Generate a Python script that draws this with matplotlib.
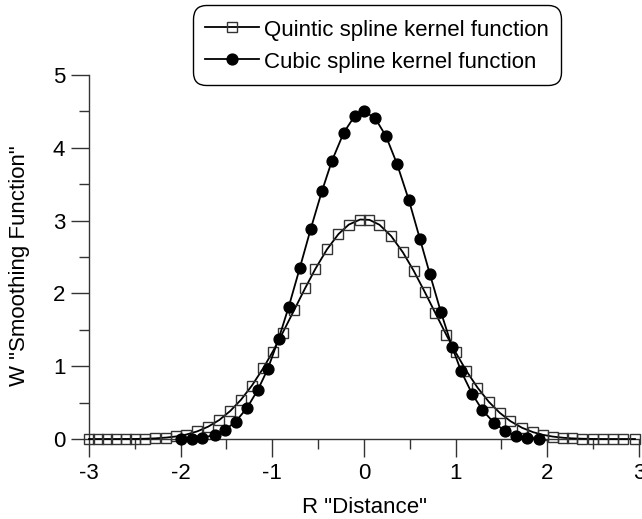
import matplotlib
matplotlib.use("Agg")
import matplotlib.pyplot as plt
from matplotlib.ticker import MultipleLocator

plt.rcParams['font.family'] = ['Liberation Sans', 'DejaVu Sans']
plt.rcParams['axes.unicode_minus'] = False

# Quintic spline kernel samples
quintic_x = [-3.00, -2.90, -2.80, -2.70, -2.60, -2.50, -2.39, -2.28, -2.155, -2.046,
             -1.937, -1.817, -1.701, -1.579, -1.459, -1.342, -1.222, -1.098, -0.995,
             -0.886, -0.760, -0.643, -0.530, -0.403, -0.279, -0.166, -0.042,
             0.060, 0.169, 0.297, 0.424, 0.541, 0.661, 0.778, 0.899, 1.000, 1.117,
             1.238, 1.361, 1.481, 1.598, 1.725, 1.845, 1.954, 2.057, 2.169, 2.271,
             2.380, 2.501, 2.610, 2.719, 2.828, 2.956]
quintic_w = [0.000, 0.000, 0.000, 0.000, 0.001, 0.001, 0.004, 0.009, 0.020, 0.036,
             0.062, 0.106, 0.169, 0.261, 0.385, 0.539, 0.735, 0.975, 1.201,
             1.461, 1.776, 2.069, 2.338, 2.606, 2.814, 2.945, 3.015,
             3.010, 2.943, 2.787, 2.565, 2.314, 2.025, 1.731, 1.429, 1.190, 0.936,
             0.707, 0.512, 0.360, 0.245, 0.154, 0.094, 0.057, 0.034, 0.018, 0.009,
             0.004, 0.001, 0.000, 0.000, 0.000, 0.000]

# Cubic spline kernel samples
cubic_x = [-2.00, -1.88, -1.77, -1.63, -1.52, -1.40, -1.28, -1.16, -1.05, -0.93,
           -0.82, -0.70, -0.58, -0.46, -0.35, -0.22, -0.10, 0.00, 0.12, 0.24,
           0.36, 0.49, 0.61, 0.72, 0.84, 0.96, 1.06, 1.18, 1.29, 1.42, 1.54,
           1.66, 1.78, 1.91]
cubic_w = [0.00, 0.00, 0.01, 0.06, 0.12, 0.24, 0.42, 0.67, 0.96, 1.38,
           1.82, 2.35, 2.89, 3.40, 3.82, 4.21, 4.44, 4.50, 4.41, 4.16,
           3.78, 3.28, 2.75, 2.26, 1.74, 1.27, 0.93, 0.62, 0.40, 0.22, 0.11,
           0.04, 0.01, 0.00]

x_ticks = [-3, -2, -1, 0, 1, 2, 3]
y_ticks = [0, 1, 2, 3, 4, 5]

FS = 16

fig = plt.figure(figsize=(6.42, 5.19), dpi=100)
ax = fig.add_axes([0.1386, 0.1541, 0.8567, 0.7014])

ax.plot(quintic_x, quintic_w, color='black', lw=1.3, marker='s', ms=7.2,
        mfc='none', mec='#333333', mew=1.0, clip_on=False,
        label='Quintic spline kernel function', zorder=3)
ax.plot(cubic_x, cubic_w, color='black', lw=1.3, marker='o', ms=7.8,
        mfc='black', mec='black', clip_on=False,
        label='Cubic spline kernel function', zorder=4)

ax.set_xlim(-3, 3)
ax.set_ylim(0, 5)
ax.set_xticks(x_ticks)
ax.set_yticks(y_ticks)
ax.xaxis.set_minor_locator(MultipleLocator(0.5))
ax.yaxis.set_minor_locator(MultipleLocator(0.5))

for side in ('top', 'right'):
    ax.spines[side].set_visible(False)
for side in ('left', 'bottom'):
    ax.spines[side].set_color('#333333')
    ax.spines[side].set_linewidth(1.0)

ax.tick_params(which='major', direction='out', length=13, width=1.0,
               color='#333333', labelsize=FS, pad=4)
ax.tick_params(which='minor', direction='out', length=7, width=1.0,
               color='#333333')

fig.text(0.567, 0.023, 'R "Distance"', ha='center', va='center', fontsize=FS)
fig.text(0.031, 0.489, 'W "Smoothing Function"', ha='center', va='center',
         rotation=90, fontsize=FS)

leg = fig.legend(loc='upper left', bbox_to_anchor=(0.3006, 0.990),
                 bbox_transform=fig.transFigure, borderaxespad=0,
                 fontsize=FS, handlelength=2.4, handleheight=1.1,
                 handletextpad=0.25, borderpad=0.55, labelspacing=0.42,
                 fancybox=True, framealpha=1, edgecolor='black')
leg.get_frame().set_linewidth(1.0)
leg.get_frame().set_boxstyle('round', pad=0, rounding_size=0.6)

fig.savefig('out.png', dpi=100)
